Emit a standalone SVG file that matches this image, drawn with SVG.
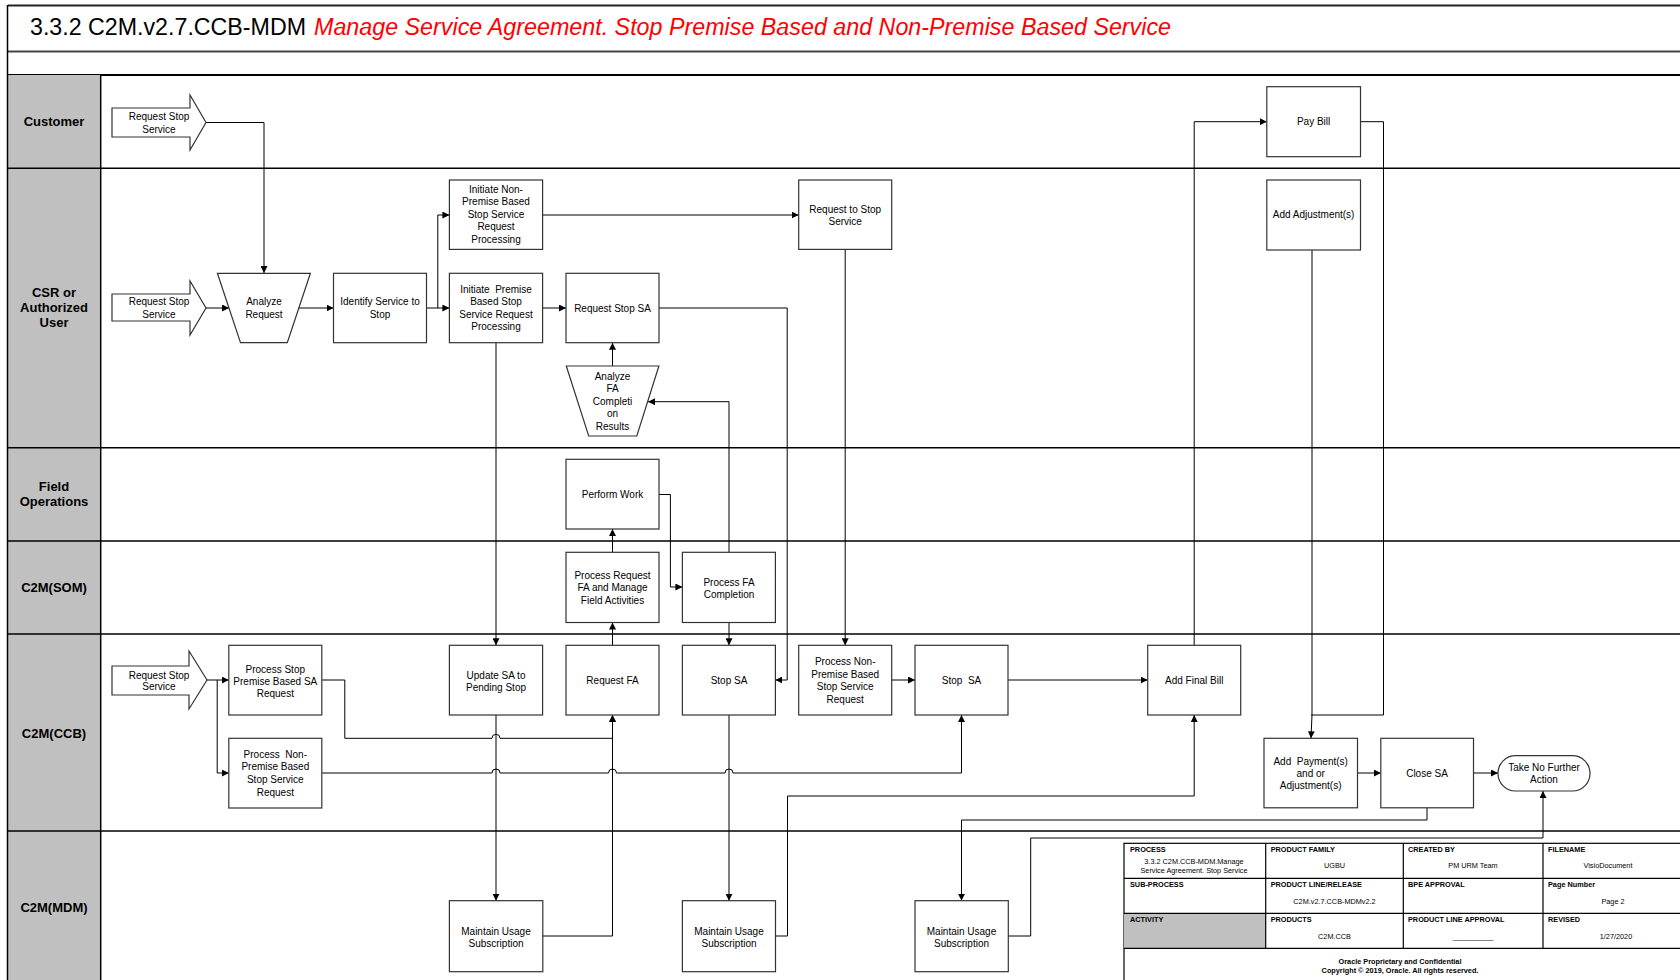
<svg xmlns="http://www.w3.org/2000/svg" width="1680" height="980" viewBox="0 0 1680 980">
<defs>
<style>
.box{fill:#fff;stroke:#333;stroke-width:1.2}
.lane{stroke:#000;stroke-width:1.5;fill:none}
.t{font-family:"Liberation Sans",Arial,sans-serif;font-size:10px;text-anchor:middle;fill:#000}
.lbl{font-family:"Liberation Sans",Arial,sans-serif;font-size:13px;font-weight:bold;text-anchor:middle;fill:#000}
.c{fill:none;stroke:#000;stroke-width:1}
.ca{fill:none;stroke:#000;stroke-width:1;marker-end:url(#ah)}
.th{font-family:"Liberation Sans",Arial,sans-serif;font-size:7.3px;font-weight:bold;fill:#000}
.tv{font-family:"Liberation Sans",Arial,sans-serif;font-size:7.3px;text-anchor:middle;fill:#000}
.tb{fill:none;stroke:#000;stroke-width:1.2}
</style>
<marker id="ah" viewBox="0 0 10 10" refX="10" refY="5" markerWidth="7" markerHeight="7" markerUnits="userSpaceOnUse" orient="auto"><path d="M0,0 L10,5 L0,10 Z" fill="#000"/></marker>
</defs>
<rect width="1680" height="980" fill="#fff"/>

<g id="frame">
<line x1="8" y1="5.5" x2="1680" y2="5.5" stroke="#222" stroke-width="2"/>
<line x1="8" y1="51.5" x2="1680" y2="51.5" stroke="#444" stroke-width="2.2"/>
<line x1="8" y1="75" x2="1680" y2="75" stroke="#000" stroke-width="2"/>
<rect x="8" y="75" width="92.7" height="905" fill="#c0c0c0"/>
<line x1="7.5" y1="5" x2="7.5" y2="980" stroke="#000" stroke-width="1.5"/>
<line x1="100.7" y1="75" x2="100.7" y2="980" class="lane"/>
<line x1="8" y1="168.3" x2="1680" y2="168.3" class="lane"/>
<line x1="8" y1="447.7" x2="1680" y2="447.7" class="lane"/>
<line x1="8" y1="541" x2="1680" y2="541" class="lane"/>
<line x1="8" y1="634" x2="1680" y2="634" class="lane"/>
<line x1="8" y1="831" x2="1680" y2="831" class="lane"/>
<text x="30" y="35" font-family="Liberation Sans, Arial, sans-serif" font-size="23"><tspan fill="#000" textLength="276" lengthAdjust="spacingAndGlyphs">3.3.2 C2M.v2.7.CCB-MDM</tspan><tspan x="314" fill="#ff0000" font-style="italic" textLength="857" lengthAdjust="spacingAndGlyphs">Manage Service Agreement. Stop Premise Based and Non-Premise Based Service</tspan></text>
<text class="lbl" x="54" y="126">Customer</text>
<text class="lbl" x="54" y="297">CSR or</text>
<text class="lbl" x="54" y="312">Authorized</text>
<text class="lbl" x="54" y="327">User</text>
<text class="lbl" x="54" y="491">Field</text>
<text class="lbl" x="54" y="506">Operations</text>
<text class="lbl" x="54" y="592">C2M(SOM)</text>
<text class="lbl" x="54" y="738">C2M(CCB)</text>
<text class="lbl" x="54" y="912">C2M(MDM)</text>
</g>

<g id="connectors">
<path class="ca" d="M206,122.5 H264 V273"/>
<path class="ca" d="M206,308 H229"/>
<path class="ca" d="M299,308 H333.5"/>
<path class="ca" d="M426.5,308 H449.4"/>
<path class="ca" d="M437.8,308 V215 H449.4"/>
<path class="ca" d="M542.6,215 H798.7"/>
<path class="ca" d="M542.6,308 H566"/>
<path class="ca" d="M659,308 H787.2 V680 H775.4"/>
<path class="ca" d="M845.2,249.5 V645.3"/>
<path class="ca" d="M496,342.7 V645.3"/>
<path class="ca" d="M612.5,366 V342.7"/>
<path class="ca" d="M729,552.3 V401.7 H648"/>
<path class="ca" d="M659,494.5 H670.4 V587 H682.4"/>
<path class="ca" d="M612.5,552.3 V529"/>
<path class="ca" d="M612.5,645.3 V622.5"/>
<path class="ca" d="M729,622.5 V645.3"/>
<path class="ca" d="M207,680 H228.8"/>
<path class="ca" d="M217.2,680 V773 H228.8"/>
<path class="ca" d="M321.7,680 H344.8 V738.3 H492 A4,4 0 0 1 500,738.3 H612.5 V715"/>
<path class="ca" d="M321.7,773 H492 A4,4 0 0 1 500,773 H608.5 A4,4 0 0 1 616.5,773 H725 A4,4 0 0 1 733,773 H961.5 V715"/>
<path class="ca" d="M891.7,680 H915"/>
<path class="ca" d="M1008,680 H1147.7"/>
<path class="ca" d="M496,715 V900.7"/>
<path class="ca" d="M729,715 V900.7"/>
<path class="ca" d="M542.8,936 H612.5 V715"/>
<path class="ca" d="M775.5,936 H787.5 V796 H1194.2 V715"/>
<path class="ca" d="M1194.2,645.3 V121.7 H1266.8"/>
<path class="c" d="M1360.5,121.7 H1383.5 V715 H1311"/>
<path class="ca" d="M1312,250 V715 L1311,738.3"/>
<path class="ca" d="M1357.5,773 H1380.8"/>
<path class="ca" d="M1473.5,773 H1498"/>
<path class="ca" d="M1427,807.5 V820 H961.5 V900.7"/>
<path class="ca" d="M1008.3,936 H1030.7 V838 H1543 V791"/>
</g>

<g id="n_cust_req">
<path class="box" d="M112,108 H190 V95 L206,122.5 L190,150 V137 H112 Z"/>
<text class="t" x="159" y="120">Request Stop</text><text class="t" x="159" y="132.5">Service</text>
</g>
<g id="n_csr_req">
<path class="box" d="M112,294 H190 V281 L206,308 L190,335 V321 H112 Z"/>
<text class="t" x="159" y="305">Request Stop</text><text class="t" x="159" y="318">Service</text>
</g>
<g id="n_analyze">
<polygon class="box" points="217.4,273.3 310.4,273.3 287.3,342.7 240.5,342.7"/>
<text class="t" x="264" y="305">Analyze</text><text class="t" x="264" y="317.5">Request</text>
</g>
<g id="n_identify">
<rect class="box" x="333.5" y="273.3" width="93" height="69.4"/>
<text class="t" x="380" y="305">Identify Service to</text><text class="t" x="380" y="317.5">Stop</text>
</g>
<g id="n_init_np">
<rect class="box" x="449.4" y="180" width="93.2" height="69.4"/>
<text class="t" x="496" y="192.8">Initiate Non-</text><text class="t" x="496" y="205.3">Premise Based</text><text class="t" x="496" y="217.8">Stop Service</text><text class="t" x="496" y="230.3">Request</text><text class="t" x="496" y="242.8">Processing</text>
</g>
<g id="n_init_p">
<rect class="box" x="449.4" y="273.3" width="93.2" height="69.4"/>
<text class="t" x="496" y="293" xml:space="preserve">Initiate  Premise</text><text class="t" x="496" y="305">Based Stop</text><text class="t" x="496" y="317.5">Service Request</text><text class="t" x="496" y="329.5">Processing</text>
</g>
<g id="n_req_stop_sa">
<rect class="box" x="566" y="273.3" width="93" height="69.4"/>
<text class="t" x="612.5" y="311.5">Request Stop SA</text>
</g>
<g id="n_req_to_stop">
<rect class="box" x="798.7" y="180" width="93" height="69.4"/>
<text class="t" x="845.2" y="212.5">Request to Stop</text><text class="t" x="845.2" y="225">Service</text>
</g>
<g id="n_analyze_fa">
<polygon class="box" points="566.3,366 658.9,366 636.8,436 588.7,436"/>
<text class="t" x="612.5" y="379.5">Analyze</text><text class="t" x="612.5" y="392">FA</text><text class="t" x="612.5" y="404.5">Completi</text><text class="t" x="612.5" y="417">on</text><text class="t" x="612.5" y="429.5">Results</text>
</g>
<g id="n_pay_bill">
<rect class="box" x="1266.8" y="86.7" width="93.7" height="70"/>
<text class="t" x="1313.6" y="125">Pay Bill</text>
</g>
<g id="n_add_adj">
<rect class="box" x="1266.8" y="180" width="93.7" height="70"/>
<text class="t" x="1313.6" y="218">Add Adjustment(s)</text>
</g>
<g id="n_perform">
<rect class="box" x="566" y="459.3" width="93" height="69.7"/>
<text class="t" x="612.5" y="498">Perform Work</text>
</g>
<g id="n_proc_req_fa">
<rect class="box" x="566" y="552.3" width="93" height="70.2"/>
<text class="t" x="612.5" y="578.5">Process Request</text><text class="t" x="612.5" y="591">FA and Manage</text><text class="t" x="612.5" y="603.5">Field Activities</text>
</g>
<g id="n_proc_fa_comp">
<rect class="box" x="682.4" y="552.3" width="93" height="70.2"/>
<text class="t" x="729" y="585.5">Process FA</text><text class="t" x="729" y="597.5">Completion</text>
</g>
<g id="n_ccb_req">
<path class="box" d="M112,666 H189 V651 L207,680 L189,709 V695 H112 Z"/>
<text class="t" x="159" y="678.5">Request Stop</text><text class="t" x="159" y="690">Service</text>
</g>
<g id="n_pspb">
<rect class="box" x="228.8" y="645.3" width="93" height="69.7"/>
<text class="t" x="275.3" y="672.5">Process Stop</text><text class="t" x="275.3" y="684.5">Premise Based SA</text><text class="t" x="275.3" y="696.5">Request</text>
</g>
<g id="n_pnp_left">
<rect class="box" x="228.8" y="738.3" width="93" height="69.7"/>
<text class="t" x="275.3" y="757.5" xml:space="preserve">Process  Non-</text><text class="t" x="275.3" y="770">Premise Based</text><text class="t" x="275.3" y="783">Stop Service</text><text class="t" x="275.3" y="796">Request</text>
</g>
<g id="n_update_sa">
<rect class="box" x="449.4" y="645.3" width="93.2" height="69.7"/>
<text class="t" x="496" y="678.5">Update SA to</text><text class="t" x="496" y="690.5">Pending Stop</text>
</g>
<g id="n_request_fa">
<rect class="box" x="566" y="645.3" width="93" height="69.7"/>
<text class="t" x="612.5" y="683.5">Request FA</text>
</g>
<g id="n_stop_sa1">
<rect class="box" x="682.4" y="645.3" width="93" height="69.7"/>
<text class="t" x="729" y="683.5">Stop SA</text>
</g>
<g id="n_pnp_right">
<rect class="box" x="798.7" y="645.3" width="93" height="69.7"/>
<text class="t" x="845.2" y="665">Process Non-</text><text class="t" x="845.2" y="677.5">Premise Based</text><text class="t" x="845.2" y="690">Stop Service</text><text class="t" x="845.2" y="702.5">Request</text>
</g>
<g id="n_stop_sa2">
<rect class="box" x="915" y="645.3" width="93" height="69.7"/>
<text class="t" x="961.5" y="683.5" xml:space="preserve">Stop  SA</text>
</g>
<g id="n_final_bill">
<rect class="box" x="1147.7" y="645.3" width="93" height="69.7"/>
<text class="t" x="1194.2" y="683.5">Add Final Bill</text>
</g>
<g id="n_add_pay">
<rect class="box" x="1264" y="738.3" width="93.5" height="69.5"/>
<text class="t" x="1310.7" y="765" xml:space="preserve">Add  Payment(s)</text><text class="t" x="1310.7" y="777">and or</text><text class="t" x="1310.7" y="789">Adjustment(s)</text>
</g>
<g id="n_close_sa">
<rect class="box" x="1380.8" y="738.3" width="92.7" height="69.5"/>
<text class="t" x="1427" y="777">Close SA</text>
</g>
<g id="n_no_action">
<rect class="box" x="1498" y="755.7" width="92" height="35.3" rx="17.6"/>
<text class="t" x="1544" y="770.5">Take No Further</text><text class="t" x="1544" y="782.5">Action</text>
</g>
<g id="n_mus1">
<rect class="box" x="449.4" y="900.7" width="93.4" height="71"/>
<text class="t" x="496" y="934.5">Maintain Usage</text><text class="t" x="496" y="946.5">Subscription</text>
</g>
<g id="n_mus2">
<rect class="box" x="682.4" y="900.7" width="93.1" height="71"/>
<text class="t" x="729" y="934.5">Maintain Usage</text><text class="t" x="729" y="946.5">Subscription</text>
</g>
<g id="n_mus3">
<rect class="box" x="915" y="900.7" width="93.3" height="71"/>
<text class="t" x="961.5" y="934.5">Maintain Usage</text><text class="t" x="961.5" y="946.5">Subscription</text>
</g>

<g id="title_block">
<rect x="1124" y="843.3" width="560" height="140" fill="#fff" stroke="#000" stroke-width="1.2"/>
<rect x="1124" y="913.3" width="141.7" height="35" fill="#c0c0c0"/>
<line class="tb" x1="1124" y1="878.3" x2="1680" y2="878.3"/>
<line class="tb" x1="1124" y1="913.3" x2="1680" y2="913.3"/>
<line class="tb" x1="1124" y1="948.3" x2="1680" y2="948.3"/>
<line class="tb" x1="1265.7" y1="843.3" x2="1265.7" y2="948.3"/>
<line class="tb" x1="1403.3" y1="843.3" x2="1403.3" y2="948.3"/>
<line class="tb" x1="1543" y1="843.3" x2="1543" y2="948.3"/>
<text class="th" x="1130" y="852.3">PROCESS</text>
<text class="tv" x="1194" y="863.8">3.3.2 C2M.CCB-MDM.Manage</text>
<text class="tv" x="1194" y="872.5">Service Agreement. Stop Service</text>
<text class="th" x="1270.7" y="852.3">PRODUCT FAMILY</text>
<text class="tv" x="1334.5" y="868.3">UGBU</text>
<text class="th" x="1408" y="852.3">CREATED BY</text>
<text class="tv" x="1473" y="868.3">PM URM Team</text>
<text class="th" x="1548" y="852.3">FILENAME</text>
<text class="tv" x="1608" y="868.3">VisioDocument</text>
<text class="th" x="1130" y="887.3">SUB-PROCESS</text>
<text class="th" x="1270.7" y="887.3">PRODUCT LINE/RELEASE</text>
<text class="tv" x="1334.5" y="903.5">C2M.v2.7.CCB-MDMv2.2</text>
<text class="th" x="1408" y="887.3">BPE APPROVAL</text>
<text class="th" x="1548" y="887.3">Page Number</text>
<text class="tv" x="1613" y="903.5">Page 2</text>
<text class="th" x="1130" y="922.3">ACTIVITY</text>
<text class="th" x="1270.7" y="922.3">PRODUCTS</text>
<text class="tv" x="1334.5" y="938.8">C2M.CCB</text>
<text class="th" x="1408" y="922.3">PRODUCT LINE APPROVAL</text>
<text class="tv" x="1473" y="938.8">__________</text>
<text class="th" x="1548" y="922.3">REVISED</text>
<text class="tv" x="1616" y="938.8">1/27/2020</text>
<text class="tv" x="1400" y="963.8" font-weight="bold">Oracle Proprietary and Confidential</text>
<text class="tv" x="1400" y="973.3" font-weight="bold">Copyright © 2019, Oracle. All rights reserved.</text>
</g>
</svg>
